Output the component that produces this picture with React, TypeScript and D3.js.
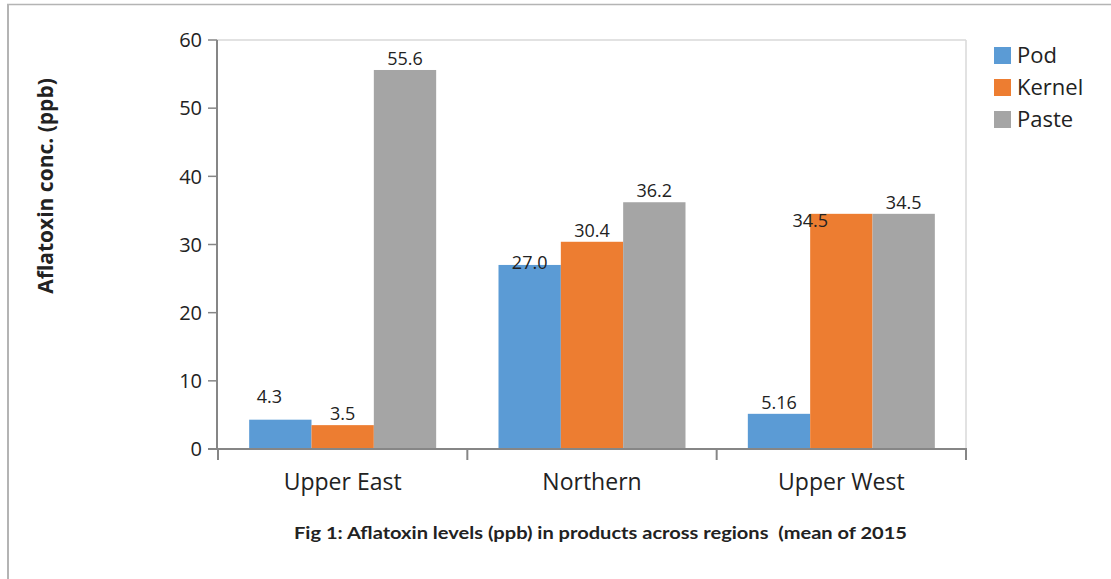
import React from "react";
import * as d3 from "d3";

const categories = ["Upper East", "Northern", "Upper West"];
const seriesNames = ["Pod", "Kernel", "Paste"];
const podValues = [4.3, 27.0, 5.16];
const kernelValues = [3.5, 30.4, 34.5];
const pasteValues = [55.6, 36.2, 34.5];
const valueLabels = [
  ["4.3", "27.0", "5.16"],
  ["3.5", "30.4", "34.5"],
  ["55.6", "36.2", "34.5"],
];
const yTicks = [0, 10, 20, 30, 40, 50, 60];
const yTitle = "Aflatoxin conc. (ppb)";
const caption = "Fig 1: Aflatoxin levels (ppb) in products across regions  (mean of 2015";

const seriesValues = [podValues, kernelValues, pasteValues];
const colors = ["#5b9bd5", "#ed7d31", "#a5a5a5"];
// label placement tweaks [series][category] => [dx, dy] from default (centered, above bar)
const labelShift: number[][][] = [
  [[-11, -12], [0, 9], [0, 0]],
  [[0, 0], [0, 0], [-31, 18]],
  [[0, 0], [0, 0], [0, 0]],
];

const FONT = "'Open Sans', sans-serif";

export default function App() {
  const W = 1111;
  const H = 579;
  const x0 = d3.scaleBand<string>().domain(categories).range([218, 966]).padding(0);
  const bw = x0.bandwidth();
  const x1 = d3
    .scaleBand<string>()
    .domain(seriesNames)
    .range([bw * 0.125, bw * 0.875])
    .padding(0);
  const y = d3.scaleLinear().domain([0, 60]).range([449, 40]);
  const axisColor = "#868686";
  const xEdges = [...categories.map((c) => x0(c) as number), 966];

  return (
    <svg
      width={W}
      height={H}
      style={{ position: "absolute", left: 0, top: 0, background: "#fff" }}
      fontFamily={FONT}
    >
      <rect x={0} y={0} width={W} height={H} fill="#fff" />
      {/* outer frame */}
      <line x1={7} x2={W} y1={4.5} y2={4.5} stroke="#b4b4b4" strokeWidth={1.5} />
      <line x1={8} x2={8} y1={4} y2={H} stroke="#b4b4b4" strokeWidth={2} />

      {/* plot frame */}
      <line x1={217} x2={966} y1={y(60)} y2={y(60)} stroke="#d9d9d9" strokeWidth={1.5} />
      <line x1={966} x2={966} y1={y(60)} y2={y(0)} stroke="#d9d9d9" strokeWidth={1.5} />

      {/* bars */}
      {seriesNames.map((s, si) =>
        categories.map((c, ci) => {
          const v = seriesValues[si][ci];
          const bx = (x0(c) as number) + (x1(s) as number);
          return (
            <rect
              key={s + c}
              x={bx}
              y={y(v)}
              width={x1.bandwidth()}
              height={y(0) - y(v)}
              fill={colors[si]}
            />
          );
        })
      )}

      {/* y axis */}
      <line x1={217} x2={217} y1={y(60)} y2={y(0)} stroke={axisColor} strokeWidth={2} />
      {yTicks.map((t) => (
        <g key={t}>
          <line x1={208} x2={217} y1={y(t)} y2={y(t)} stroke={axisColor} strokeWidth={1.5} />
          <text
            x={202}
            y={y(t)}
            dy="0.36em"
            textAnchor="end"
            fontSize={20}
            fill="#222"
          >
            {t}
          </text>
        </g>
      ))}

      {/* x axis */}
      <line x1={208} x2={967} y1={y(0)} y2={y(0)} stroke={axisColor} strokeWidth={2} />
      {xEdges.map((xe, i) => (
        <line key={i} x1={xe} x2={xe} y1={y(0)} y2={y(0) + 11} stroke={axisColor} strokeWidth={2} />
      ))}
      {categories.map((c) => (
        <text
          key={c}
          x={(x0(c) as number) + bw / 2}
          y={490}
          textAnchor="middle"
          fontSize={23}
          fill="#222"
        >
          {c}
        </text>
      ))}

      {/* data labels */}
      {seriesNames.map((s, si) =>
        categories.map((c, ci) => {
          const v = seriesValues[si][ci];
          const cx = (x0(c) as number) + (x1(s) as number) + x1.bandwidth() / 2;
          const [dx, dy] = labelShift[si][ci];
          return (
            <text
              key={"l" + s + c}
              x={cx + dx}
              y={y(v) - 5 + dy}
              textAnchor="middle"
              fontSize={18}
              fill="#222"
            >
              {valueLabels[si][ci]}
            </text>
          );
        })
      )}

      {/* y title */}
      <text
        transform={`translate(53,186) rotate(-90)`}
        textAnchor="middle"
        fontSize={21}
        fontWeight="bold"
        fill="#222"
      >
        {yTitle}
      </text>

      {/* legend */}
      {seriesNames.map((s, i) => (
        <g key={s} transform={`translate(994,${47 + i * 32})`}>
          <rect x={0} y={0} width={17} height={17} fill={colors[i]} />
          <text x={23} y={16} fontSize={22} fill="#222">
            {s}
          </text>
        </g>
      ))}

      {/* caption */}
      <text
        x={294}
        y={539}
        fontSize={17}
        fontWeight="bold"
        fontFamily="Lato, sans-serif"
        fill="#222"
        textLength={613}
        lengthAdjust="spacingAndGlyphs"
        style={{ whiteSpace: "pre" }}
      >
        {caption}
      </text>
    </svg>
  );
}
